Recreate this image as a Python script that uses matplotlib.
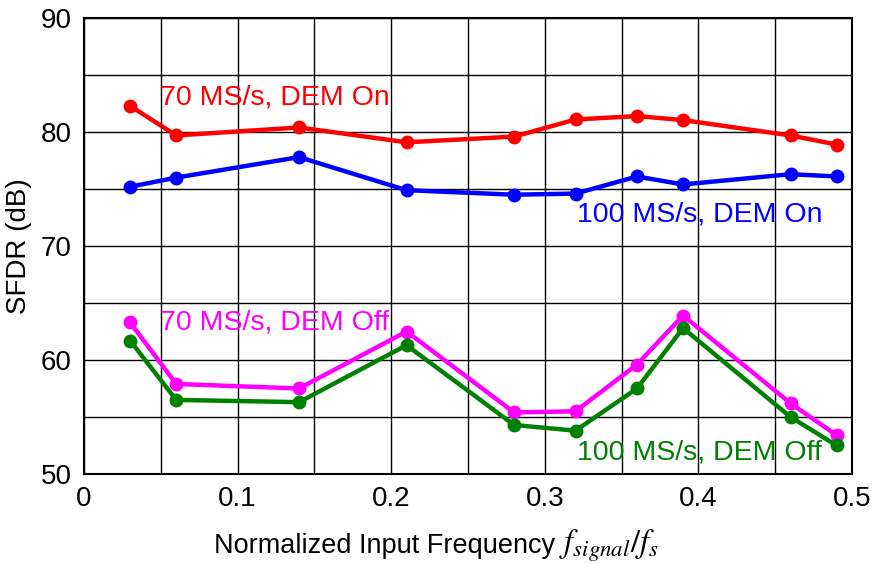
import matplotlib
matplotlib.use("Agg")
from matplotlib import pyplot as plt

plt.rcParams["font.family"] = ["Liberation Sans", "DejaVu Sans"]
plt.rcParams["mathtext.fontset"] = "stix"

freq = [0.03, 0.06, 0.14, 0.21, 0.28, 0.32, 0.36, 0.39, 0.46, 0.49]
sfdr_70_on = [82.3, 79.7, 80.4, 79.1, 79.6, 81.1, 81.4, 81.05, 79.7, 78.9]
sfdr_100_on = [75.2, 76.0, 77.8, 74.9, 74.5, 74.6, 76.1, 75.4, 76.3, 76.1]
sfdr_70_off = [63.3, 57.9, 57.5, 62.5, 55.4, 55.5, 59.6, 63.9, 56.2, 53.4]
sfdr_100_off = [61.7, 56.5, 56.3, 61.3, 54.3, 53.8, 57.5, 62.8, 55.0, 52.5]

fig = plt.figure(figsize=(8.74, 5.64), dpi=100)
ax = fig.add_axes([0.0961, 0.1596, 0.8787, 0.8084])

series = [
    (sfdr_70_on, "#ff0000", "70 MS/s, DEM On", 0.0495, 83.0),
    (sfdr_100_on, "#0000ff", "100 MS/s, DEM On", 0.321, 72.8),
    (sfdr_70_off, "#ff00ff", "70 MS/s, DEM Off", 0.0495, 63.3),
    (sfdr_100_off, "#008000", "100 MS/s, DEM Off", 0.321, 51.9),
]
for vals, color, label, tx, ty in series:
    ax.plot(freq, vals, color=color, lw=3.2, marker="o", ms=9, zorder=3)
    ax.text(tx, ty, label, color=color, fontsize=20.5, ha="left", va="center", zorder=4)

ax.set_xlim(0, 0.5)
ax.set_ylim(50, 90)
ax.set_xticks([0, 0.1, 0.2, 0.3, 0.4, 0.5])
ax.set_xticklabels(["0", "0.1", "0.2", "0.3", "0.4", "0.5"])
ax.set_xticks([0.05, 0.15, 0.25, 0.35, 0.45], minor=True)
ax.set_yticks([50, 60, 70, 80, 90])
ax.set_yticks([55, 65, 75, 85], minor=True)
ax.grid(True, which="both", color="black", lw=1)
ax.tick_params(which="both", length=0, labelsize=20, pad=9)
for s in ax.spines.values():
    s.set_linewidth(1.5)

# x label: plain part plus larger italic serif part, as in the original
ax.text(0.613, -0.173, "Normalized Input Frequency", transform=ax.transAxes,
        fontsize=19.5, ha="right", va="baseline")
ax.text(0.618, -0.173, r"$f_{signal}/f_s$", transform=ax.transAxes,
        fontsize=23.5, ha="left", va="baseline")
ax.set_ylabel("SFDR (dB)", fontsize=20, labelpad=6)

fig.savefig("out.png", dpi=100)
